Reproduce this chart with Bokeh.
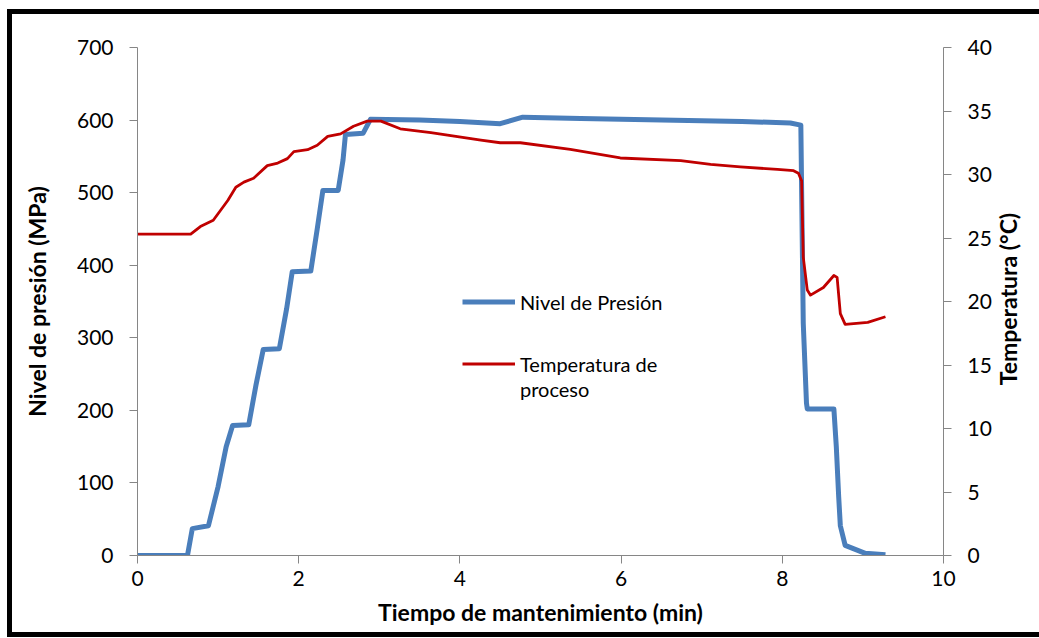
import math
from bokeh.plotting import figure
from bokeh.models import Range1d, LinearAxis, Legend, LegendItem, FixedTicker
from bokeh.embed import file_html
from bokeh.resources import INLINE

# Pressure (MPa) vs time (min)
p_time = [0, 0.62, 0.68, 0.88, 1.0, 1.1, 1.18, 1.38, 1.47, 1.56, 1.76, 1.85, 1.92,
          2.15, 2.23, 2.30, 2.49, 2.55, 2.58, 2.80, 2.89, 3.5, 4.0, 4.5, 4.78, 5.5,
          6.5, 7.5, 8.1, 8.23, 8.26, 8.30, 8.31, 8.64, 8.67, 8.70, 8.72, 8.78, 9.03, 9.28]
pressure = [0, 0, 37, 41, 95, 150, 179, 180, 235, 284, 285, 340, 391,
            392, 450, 503, 503, 545, 580, 582, 601, 600, 598, 595, 604, 602,
            600, 598, 596, 593, 320, 210, 202, 202, 150, 80, 41, 14, 3, 1]

# Temperature (°C) vs time (min)
t_time = [0, 0.66, 0.78, 0.94, 1.12, 1.22, 1.32, 1.44, 1.61, 1.74, 1.86, 1.94, 2.11,
          2.23, 2.36, 2.52, 2.68, 2.85, 3.02, 3.26, 3.64, 4.26, 4.5, 4.75, 5.37, 5.99,
          6.74, 7.11, 7.48, 7.94, 8.14, 8.2, 8.24, 8.26, 8.31, 8.35, 8.51, 8.64, 8.68,
          8.72, 8.78, 9.06, 9.28]
temperature = [25.3, 25.3, 25.9, 26.4, 27.95, 29.0, 29.4, 29.7, 30.7, 30.9, 31.25, 31.8, 31.95,
               32.3, 33.0, 33.2, 33.8, 34.2, 34.2, 33.6, 33.3, 32.7, 32.5, 32.5, 31.97, 31.3,
               31.1, 30.8, 30.6, 30.4, 30.3, 30.1, 29.5, 23.5, 20.9, 20.5, 21.1, 22.05, 21.9,
               19.05, 18.2, 18.35, 18.8]

x_ticks = [0, 2, 4, 6, 8, 10]
left_ticks = [0, 100, 200, 300, 400, 500, 600, 700]
right_ticks = [0, 5, 10, 15, 20, 25, 30, 35, 40]

FONT = "Lato"
AXIS_COLOR = "#868686"
W, H = 1039, 638

p = figure(width=W, height=H, output_backend="svg", toolbar_location=None,
           x_range=Range1d(0, 10), y_range=Range1d(0, 700),
           min_border_left=137, min_border_right=96, min_border_top=47, min_border_bottom=83)
p.outline_line_color = None
p.grid.visible = False
p.border_fill_alpha = 0
p.extra_y_ranges = {"temp": Range1d(0, 40)}
# black frame of the chart image (top, left, bottom; right side lies outside the picture)
p.styles = {"box-shadow": ("inset 7px 0 0 0 white, inset 0 9px 0 0 white, "
                           "inset 0 -1px 0 0 white, "
                           "inset 12px 0 0 0 black, inset 0 14px 0 0 black, "
                           "inset 0 -6px 0 0 black")}

r_p = p.line(p_time, pressure, line_color="#4A7EBB", line_width=5, line_join="round")
r_t = p.line(t_time, temperature, line_color="#C00000", line_width=2.8,
             y_range_name="temp", line_join="round")
r_blank = p.line([0], [0], line_alpha=0)

right = LinearAxis(y_range_name="temp")
p.add_layout(right, "right")

for ax in [p.xaxis[0], p.yaxis[0], right]:
    ax.axis_line_color = AXIS_COLOR
    ax.major_tick_line_color = AXIS_COLOR
    ax.minor_tick_line_color = None
    ax.major_tick_in = 0
    ax.major_tick_out = 8
    ax.major_label_text_font = FONT
    ax.major_label_text_font_size = "21px"
    ax.major_label_text_color = "black"
    ax.axis_label_text_font = FONT
    ax.axis_label_text_font_size = "23px"
    ax.axis_label_text_font_style = "bold"
    ax.axis_label_text_color = "black"

p.xaxis[0].ticker = FixedTicker(ticks=x_ticks)
p.yaxis[0].ticker = FixedTicker(ticks=left_ticks)
right.ticker = FixedTicker(ticks=right_ticks)

p.xaxis[0].axis_label = "Tiempo de mantenimiento (min)"
p.yaxis[0].axis_label = "Nivel de presión (MPa)"

p.xaxis[0].major_label_standoff = 7
p.xaxis[0].axis_label_standoff = 9
p.yaxis[0].major_label_standoff = 16
p.yaxis[0].axis_label_standoff = 23
right.major_label_standoff = 16

# right axis title, reading bottom-to-top as in the original
right_title_axis = LinearAxis(y_range_name="temp", ticker=FixedTicker(ticks=[13.4]),
                              major_label_overrides={13.4: "Temperatura (°C)"},
                              major_label_orientation=math.pi / 2,
                              axis_line_color=None, major_tick_line_color=None,
                              minor_tick_line_color=None, major_tick_in=0, major_tick_out=0,
                              major_label_standoff=14,
                              major_label_text_font=FONT, major_label_text_font_size="23px",
                              major_label_text_font_style="bold",
                              major_label_text_color="black")
p.add_layout(right_title_axis, "right")


def make_legend(items, loc):
    lg = Legend(items=items, location=loc, border_line_color=None,
                background_fill_alpha=0, padding=0, margin=0, spacing=0,
                glyph_width=53, glyph_height=25, label_height=25, label_standoff=5,
                label_text_font=FONT, label_text_font_size="20px",
                label_text_color="black")
    return lg


lg1 = make_legend([LegendItem(label="Nivel de Presión", renderers=[r_p])], (325, 241))
lg2 = make_legend([LegendItem(label="Temperatura de", renderers=[r_t]),
                   LegendItem(label="proceso", renderers=[r_blank])], (325, 154))
p.add_layout(lg1, "center")
p.add_layout(lg2, "center")

open("out.html", "w").write(file_html(p, INLINE))
